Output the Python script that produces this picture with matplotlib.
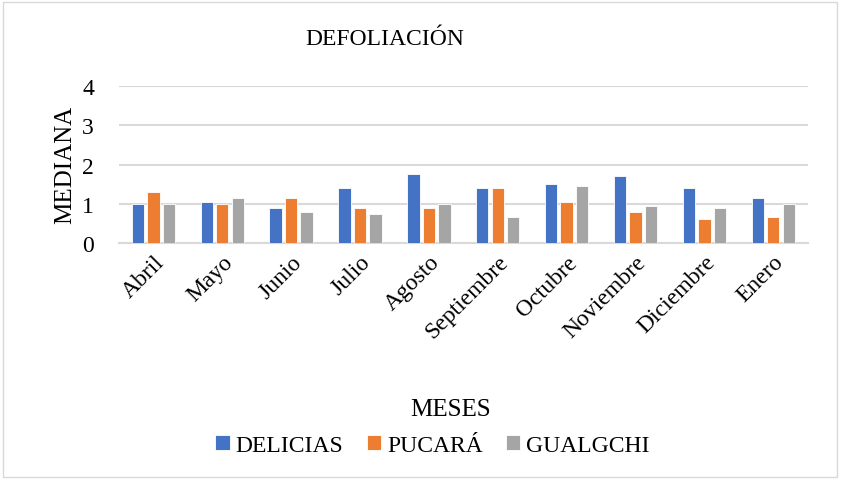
import matplotlib.pyplot as plt
import numpy as np
from matplotlib.patches import Rectangle

plt.rcParams['font.family'] = ['Liberation Serif', 'DejaVu Serif']

# Data
meses = ['Abril', 'Mayo', 'Junio', 'Julio', 'Agosto', 'Septiembre',
         'Octubre', 'Noviembre', 'Diciembre', 'Enero']
delicias = [1.0, 1.05, 0.9, 1.4, 1.75, 1.4, 1.5, 1.7, 1.4, 1.15]
pucara = [1.3, 1.0, 1.15, 0.9, 0.9, 1.4, 1.05, 0.8, 0.6, 0.65]
gualgchi = [1.0, 1.15, 0.8, 0.75, 1.0, 0.65, 1.45, 0.95, 0.9, 1.0]

series = [('DELICIAS', delicias, '#4472C4'),
          ('PUCARÁ', pucara, '#ED7D31'),
          ('GUALGCHI', gualgchi, '#A5A5A5')]

fig = plt.figure(figsize=(8.45, 4.81), dpi=100)
ax = fig.add_axes([0.1408, 0.4927, 0.815, 0.3264])

x = np.arange(len(meses))
bw = 0.18
step = 0.225
for i, (name, vals, col) in enumerate(series):
    ax.bar(x + (i - 1) * step, vals, bw, color=col, label=name,
           edgecolor='white', linewidth=0.6, zorder=3)

ax.set_xlim(-0.5, len(meses) - 0.5)
ax.set_ylim(0, 4)
ax.set_yticks([0, 1, 2, 3, 4])
ax.yaxis.grid(True, color='#D9D9D9', linewidth=1.5, zorder=0)
for s in ['top', 'right', 'left']:
    ax.spines[s].set_visible(False)
ax.spines['bottom'].set_color('#D9D9D9')
ax.spines['bottom'].set_linewidth(1.5)
ax.tick_params(axis='both', length=0, labelsize=17, colors='#000000')
ax.tick_params(axis='y', pad=18)
ax.set_xticks(x)
ax.set_xticklabels(meses, rotation=45, ha='right', rotation_mode='anchor')
ax.tick_params(axis='x', pad=6)

fig.text(0.455, 0.918, 'DEFOLIACIÓN', ha='center', va='center', fontsize=17)
fig.text(0.077, 0.658, 'MEDIANA', rotation=90, ha='center', va='center', fontsize=18)
fig.text(0.533, 0.148, 'MESES', ha='center', va='center', fontsize=18)

fig.legend(loc='center', bbox_to_anchor=(0.512, 0.072), ncol=3, frameon=False,
           fontsize=17, handlelength=0.6, handleheight=0.6, handletextpad=0.25,
           columnspacing=1.0)

fig.patches.append(Rectangle((0.004, 0.006), 0.987, 0.988, transform=fig.transFigure,
                             fill=False, edgecolor='#D9D9D9', linewidth=1))

plt.savefig('out.png', dpi=100)
